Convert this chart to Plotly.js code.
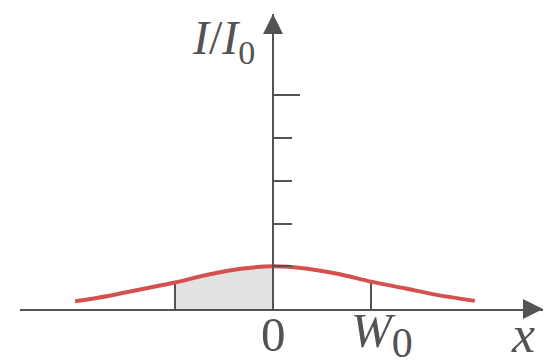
<!DOCTYPE html>
<html>
<head>
<meta charset="utf-8">
<script src="https://cdn.plot.ly/plotly-3.0.1.min.js"></script>
<style>html,body{margin:0;padding:0;background:#fff;}#chart{width:554px;height:364px;}</style>
</head>
<body>
<div id="chart"></div>
<script>
// Position in units of W0, and relative intensity I/I0
const u = [-2.02, -1.67, -1.33, -1.0, -0.67, -0.33, 0, 0.33, 0.67, 1.0, 1.33, 1.67, 2.06];
const intensity = [0.18, 0.31, 0.47, 0.62, 0.80, 0.94, 1.0, 0.95, 0.82, 0.64, 0.49, 0.33, 0.19];
const shadeFrom = -1.0, shadeTo = 0;
const markerU = [-1.0, 1.0];
const yTicks = [1, 2, 3, 4];
const yTopTick = [5];
const xTickVals = [0, 1];
const xTickText = ['0', '<i>W</i><sub><span style="font-size:42px">0</span></sub>'];
const xTickShift = [0, 11];

const xr = [-2.582, 2.755];
const yr = [0, 6.904];
const ink = '#535353';
const red = '#d5514f';
const serif = 'Liberation Serif, serif';

const shadeX = [], shadeY = [];
u.forEach((v, i) => { if (v >= shadeFrom && v <= shadeTo) { shadeX.push(v); shadeY.push(intensity[i]); } });
const mX = [], mY = [];
markerU.forEach(m => { const i = u.indexOf(m); mX.push(m, m, null); mY.push(0, intensity[i], null); });

const traces = [
  {x: shadeX, y: shadeY, mode: 'lines', fill: 'tozeroy', fillcolor: '#e2e2e2',
   line: {width: 0, shape: 'spline'}, hoverinfo: 'skip'},
  {x: mX, y: mY, mode: 'lines', line: {color: ink, width: 2}, hoverinfo: 'skip'},
  {x: u, y: intensity, mode: 'lines', line: {color: red, width: 4, shape: 'spline'}},
  {x: [null], y: [null], yaxis: 'y2', hoverinfo: 'skip'}
];

const pos = (0 - xr[0]) / (xr[1] - xr[0]);
const tickAnns = xTickVals.map((v, i) => ({
  xref: 'x', yref: 'paper', x: v, y: -0.088, xshift: xTickShift[i], text: xTickText[i],
  showarrow: false, xanchor: 'center', yanchor: 'middle',
  font: {size: 49, color: ink, family: serif}
}));

const layout = {
  width: 554, height: 364,
  margin: {l: 20, r: 11, t: 14, b: 54.5},
  paper_bgcolor: '#fff', plot_bgcolor: 'rgba(0,0,0,0)',
  showlegend: false,
  font: {family: serif, color: ink},
  xaxis: {range: xr, showgrid: false, zeroline: false, showline: true, linecolor: ink, linewidth: 2,
          showticklabels: false, ticks: '', automargin: false},
  yaxis: {range: yr, anchor: 'free', position: pos, side: 'right', showgrid: false, zeroline: false,
          showline: true, linecolor: ink, linewidth: 2, tickvals: yTicks, ticks: 'outside', ticklen: 18,
          tickwidth: 2, tickcolor: ink, showticklabels: false, automargin: false, layer: 'above traces'},
  yaxis2: {range: yr, overlaying: 'y', anchor: 'free', position: pos, side: 'right', showgrid: false,
           zeroline: false, showline: false, tickvals: yTopTick, ticks: 'outside', ticklen: 26,
           tickwidth: 2, tickcolor: ink, showticklabels: false, automargin: false},
  annotations: tickAnns.concat([
    {xref: 'paper', yref: 'paper', x: 1, y: 0, ax: -20, ay: 0, text: '', showarrow: true,
     arrowhead: 2, arrowsize: 2, arrowwidth: 2, arrowcolor: ink},
    {xref: 'x', yref: 'paper', x: 0, y: 1, ax: 0, ay: 20, text: '', showarrow: true,
     arrowhead: 2, arrowsize: 2, arrowwidth: 2, arrowcolor: ink},
    {xref: 'paper', yref: 'paper', x: 0.39, y: 0.91,
     text: '<i>I</i>/<i>I</i><sub><span style="font-size:34px">0</span></sub>',
     showarrow: false, xanchor: 'center', yanchor: 'middle',
     font: {size: 48, color: ink, family: serif}},
    {xref: 'paper', yref: 'paper', x: 0.962, y: -0.086, text: '<i>x</i>',
     showarrow: false, xanchor: 'center', yanchor: 'middle',
     font: {size: 52, color: ink, family: serif}}
  ])
};
Plotly.newPlot('chart', traces, layout, {staticPlot: true, displayModeBar: false});
</script>
</body>
</html>
